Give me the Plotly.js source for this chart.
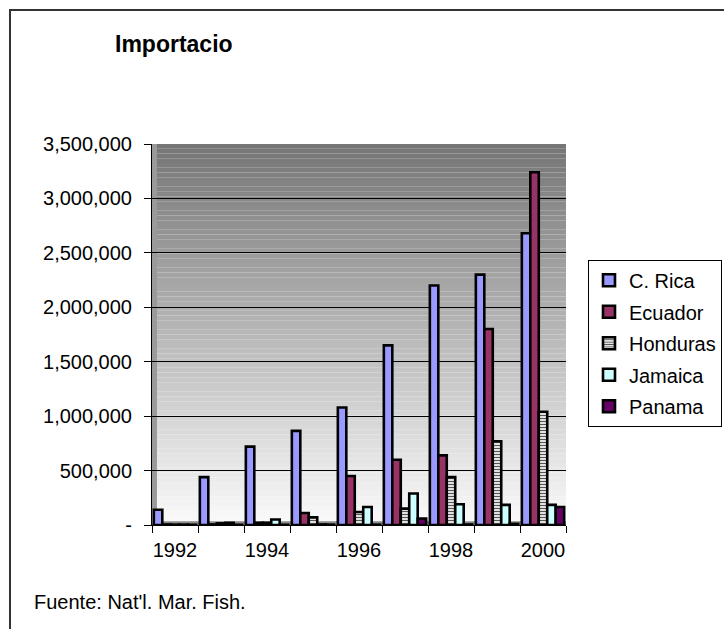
<!DOCTYPE html>
<html>
<head>
<meta charset="utf-8">
<script src="https://cdn.plot.ly/plotly-3.0.1.min.js"></script>
<style>html,body{margin:0;padding:0;background:#fff;}#chart{width:724px;height:629px;}</style>
</head>
<body>
<div id="chart"></div>
<script>
var years = [1992, 1993, 1994, 1995, 1996, 1997, 1998, 1999, 2000];
var cRica    = [140000, 440000, 720000, 865000, 1080000, 1650000, 2200000, 2300000, 2680000];
var ecuador  = [5000, 5000, 20000, 110000, 450000, 600000, 640000, 1800000, 3240000];
var honduras = [3000, 15000, 20000, 70000, 120000, 150000, 440000, 770000, 1040000];
var jamaica  = [3000, 20000, 50000, 5000, 165000, 290000, 190000, 185000, 185000];
var panama   = [2000, 2000, 2000, 3000, 3000, 60000, 5000, 10000, 165000];
var yTickVals = [0, 500000, 1000000, 1500000, 2000000, 2500000, 3000000, 3500000];
var yTickText = ['-', '500,000', '1,000,000', '1,500,000', '2,000,000', '2,500,000', '3,000,000', '3,500,000'];
var xTickVals = [1992, 1994, 1996, 1998, 2000];
var xTickText = ['1992', '1994', '1996', '1998', '2000'];

var FONT = 'Arial, "Liberation Sans", sans-serif';
var line = {color: '#000', width: 2.6};

function mk(name, y, color, extra) {
  var t = {type: 'bar', name: name, x: years, y: y, legendgroup: name,
    marker: {color: color, line: line}, hoverinfo: 'x+y+name'};
  if (extra) t.marker.pattern = extra;
  return t;
}
var data = [
  mk('C. Rica', cRica, '#9999FF'),
  mk('Ecuador', ecuador, '#993366'),
  mk('Honduras', honduras, '#FFFFFF', {shape: '-', fgcolor: '#555', bgcolor: '#FFFFFF', size: 3, solidity: 0.45}),
  mk('Jamaica', jamaica, '#CCFFFF'),
  mk('Panama', panama, '#660066')
];

// gradient back wall (style only)
var shapes = [];
var N = 80;
for (var i = 0; i < N; i++) {
  var f = i / (N - 1);
  var c = Math.round(250 - (250 - 118) * f);
  shapes.push({type: 'rect', xref: 'x domain', yref: 'y domain', x0: 0, x1: 1,
    y0: i / N, y1: (i + 1) / N, fillcolor: 'rgb(' + c + ',' + c + ',' + c + ')',
    line: {width: 0}, layer: 'below'});
}
// left side wall & floor
shapes.push({type: 'rect', xref: 'x domain', yref: 'y domain', x0: 0, x1: 0.012, y0: 0, y1: 1,
  fillcolor: '#9a9a9a', line: {width: 0}, layer: 'below'});
shapes.push({type: 'rect', xref: 'x domain', yref: 'y domain', x0: 0, x1: 1, y0: 0, y1: 0.01,
  fillcolor: '#8a8a8a', line: {width: 0}, layer: 'below'});
// outer chart border
shapes.push({type: 'rect', xref: 'paper', yref: 'paper', x0: -0.343, x1: 2, y0: -1, y1: 1.352,
  line: {color: '#333', width: 2}, fillcolor: 'rgba(0,0,0,0)', layer: 'above'});

var layout = {
  width: 724, height: 629,
  margin: {l: 152, r: 158, t: 144, b: 104, autoexpand: false},
  paper_bgcolor: '#FFFFFF', plot_bgcolor: '#FFFFFF',
  font: {family: FONT, size: 20, color: '#000'},
  title: {text: '<b>Importacio</b>', xref: 'container', yref: 'container',
    x: 115 / 724, xanchor: 'left', y: 1 - 44 / 629, yanchor: 'middle',
    font: {family: FONT, size: 23, color: '#000'}},
  barmode: 'group', bargap: 0.08, bargroupgap: 0,
  xaxis: {range: [1991.5, 2000.5], tickvals: xTickVals, ticktext: xTickText,
    ticks: '', showgrid: false, zeroline: false, showline: true, linecolor: '#000', linewidth: 1,
    ticklabelstandoff: 7,
    tickfont: {family: FONT, size: 20, color: '#000'},
    minor: {tick0: 1991.5, dtick: 1, ticks: 'outside', ticklen: 7, tickcolor: '#000', showgrid: false}},
  yaxis: {range: [0, 3500000], tickvals: yTickVals, ticktext: yTickText,
    ticks: 'outside', ticklen: 7, tickcolor: '#000', showline: true, linecolor: '#000', linewidth: 1,
    showgrid: true, gridcolor: '#000', gridwidth: 1, zeroline: false,
    ticklabelstandoff: 8,
    tickfont: {family: FONT, size: 20, color: '#000'}},
  legend: {x: 1.3768, xanchor: 'right', y: 0.696, yanchor: 'top', xref: 'paper', yref: 'paper',
    bgcolor: '#FFFFFF', bordercolor: '#000', borderwidth: 1, tracegroupgap: 2.5,
    font: {family: FONT, size: 20, color: '#000'}, itemwidth: 30},
  annotations: [
    {xref: 'paper', yref: 'paper', x: (32 - 152) / 414, xanchor: 'left', y: (525 - 602) / 381, yanchor: 'middle',
      text: "Fuente: Nat'l. Mar. Fish.", showarrow: false, font: {family: FONT, size: 20, color: '#000'}}
  ],
  shapes: shapes,
  showlegend: true
};

Plotly.newPlot('chart', data, layout, {displayModeBar: false, staticPlot: true});
</script>
</body>
</html>
